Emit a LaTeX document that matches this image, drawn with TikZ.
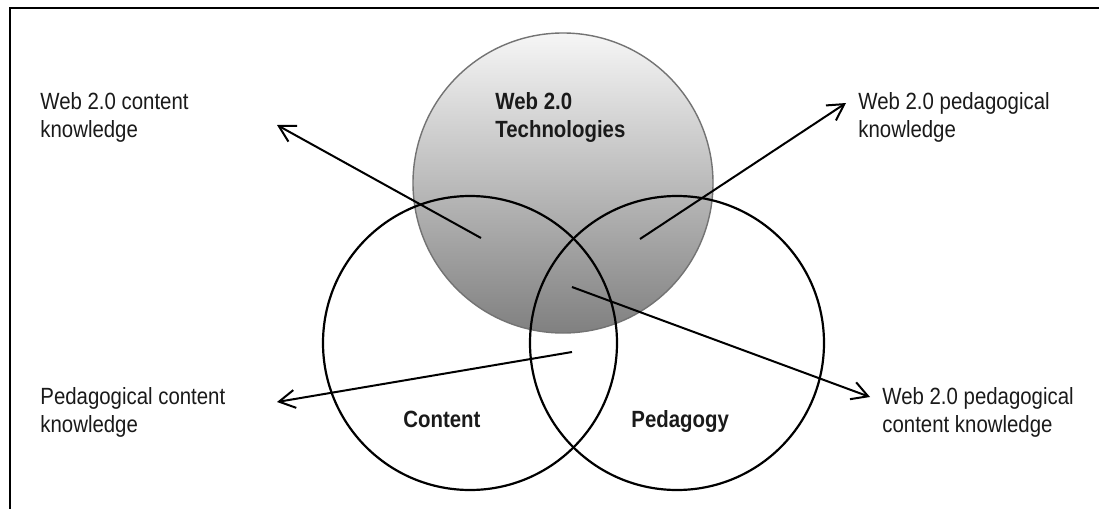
\documentclass[tikz,border=0pt]{standalone}
\usepackage{fontspec}
\setmainfont{Liberation Sans}
\usetikzlibrary{arrows.meta}
\definecolor{txt}{HTML}{1A1A1A}
\definecolor{shadetop}{HTML}{F6F6F6}
\definecolor{shadebot}{HTML}{808080}
\tikzset{
  lbl/.style={anchor=base west, inner sep=0pt, align=left, text=txt, transform shape, yscale=1.15,
    font=\fontsize{10.2pt}{11.8pt}\selectfont},
  blbl/.style={lbl, font=\fontsize{10.2pt}{11.8pt}\selectfont\bfseries},
  ring/.style={circle, draw=black, line width=1.1pt, inner sep=0pt},
  conn/.style={draw=black, line width=1pt, -{Straight Barb[length=8pt,width=9pt,line width=1pt]}},
}
\begin{document}
\begin{tikzpicture}[x=0.5pt,y=-0.5pt]
\useasboundingbox (0,0) rectangle (1099,509);
\fill[white] (0,0) rectangle (1099,509);
% frame
\draw[line width=1.4pt] (10,509) -- (10,8) -- (1099,8);
% web 2.0 circle
\node[circle, inner sep=0pt, minimum size=150pt, draw=black!55, line width=0.7pt,
  top color=shadetop, bottom color=shadebot] (web) at (563,183) {};
% content and pedagogy circles
\node[ring, minimum size=147pt] (content) at (470,343) {};
\node[ring, minimum size=147pt] (pedagogy) at (677,343) {};
% labels (anchor = baseline of last line)
\node[blbl] (webtxt) at (495,137) {Web 2.0\\Technologies};
\node[blbl] (contxt) at (403,427) {Content};
\node[blbl] (pedtxt) at (631,427) {Pedagogy};
\node[lbl] (wck) at (40,137) {Web 2.0 content\\knowledge};
\node[lbl] (wpk) at (858,137) {Web 2.0 pedagogical\\knowledge};
\node[lbl] (pck) at (40,432) {Pedagogical content\\knowledge};
\node[lbl] (wpck) at (882,432) {Web 2.0 pedagogical\\content knowledge};
% arrow ends
\coordinate (s1) at (481,238); \coordinate (e1) at (277,125);
\coordinate (s2) at (640,239); \coordinate (e2) at (846,103);
\coordinate (s3) at (572,352); \coordinate (e3) at (277,402);
\coordinate (s4) at (572,287); \coordinate (e4) at (870,397);
\draw[conn] (s1) -- (e1);
\draw[conn] (s2) -- (e2);
\draw[conn] (s3) -- (e3);
\draw[conn] (s4) -- (e4);
\end{tikzpicture}
\end{document}
